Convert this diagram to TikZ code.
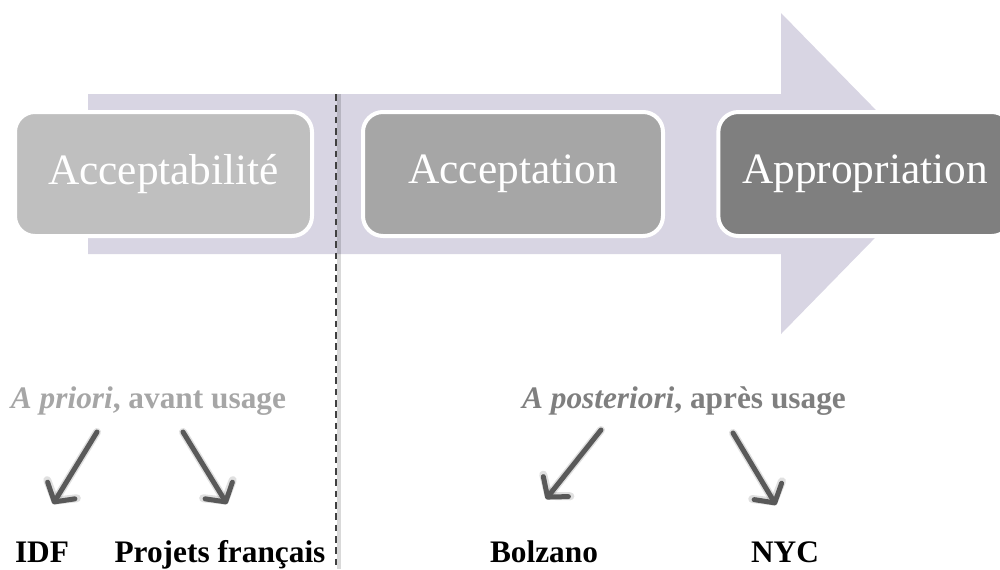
\documentclass[tikz,border=0pt]{standalone}
\usepackage{fontspec}
\setmainfont{Liberation Serif}
\usetikzlibrary{arrows.meta}
\definecolor{lav}{HTML}{D8D5E3}
\definecolor{gA}{HTML}{BFBFBF}
\definecolor{gB}{HTML}{A6A6A6}
\definecolor{gC}{HTML}{7F7F7F}
\definecolor{gD}{HTML}{595959}
\tikzset{
  stagebox/.style={draw=white, line width=3pt, rounded corners=15pt, text=white,
    minimum height=93pt, font=\fontsize{32.5}{36}\selectfont, inner sep=0pt},
  phase/.style={anchor=base, font=\fontsize{23.5}{26}\selectfont\bfseries},
  case/.style={anchor=base, font=\fontsize{23.5}{26}\selectfont\bfseries, text=black},
  darrow/.style={draw=gD, line width=3.75pt, line cap=round,
    -{Straight Barb[length=10pt, width=24pt, round]}},
  dshadow/.style={draw=black, opacity=0.12, line width=6pt, line cap=round,
    -{Straight Barb[length=10pt, width=26pt, round]}, shift={(2,3)}}
}
\begin{document}
\begin{tikzpicture}[x=0.75pt, y=-0.75pt]
\useasboundingbox (0,0) rectangle (1000,569);
% big arrow
\fill[lav] (88,94) -- (781,94) -- (781,13) -- (938,173.5) -- (781,334) -- (781,254) -- (88,254) -- cycle;
% dashed separator
\coordinate (dtop) at (336,94);
\coordinate (dbot) at (336,569);
\draw[black, opacity=0.15, line width=3pt] ([xshift=2.5]dtop) -- ([xshift=2.5]dbot);
\draw[black!75, line width=1.1pt, dash pattern=on 5pt off 3.5pt] (dtop) -- (dbot);
% stage boxes
\node (b1) [stagebox, fill=gA, minimum width=222.75pt] at (163.5,174) {Acceptabilité};
\node (b2) [stagebox, fill=gB, minimum width=225pt] at (513,174) {Acceptation};
\node (b3) [stagebox, fill=gC, minimum width=220pt] at (865,174) {Appropriation};
% phase labels
\node (pri) [phase, text=gB] at (148.5,408) {\textit{A priori}, avant usage};
\node (post) [phase, text=gC] at (684,408) {\textit{A posteriori}, après usage};
% cases
\node (idf) [case] at (42,562) {IDF};
\node (fr) [case] at (220,562) {Projets français};
\node (bz) [case] at (544,562) {Bolzano};
\node (nyc) [case] at (785,562) {NYC};
% arrow end points
\coordinate (a1s) at (97,432);  \coordinate (a1e) at (53,504);
\coordinate (a2s) at (183,432); \coordinate (a2e) at (227,504);
\coordinate (a3s) at (601,430); \coordinate (a3e) at (546,499);
\coordinate (a4s) at (733,433); \coordinate (a4e) at (776,505);
\foreach \s/\e in {a1s/a1e, a2s/a2e, a3s/a3e, a4s/a4e}{
  \draw[dshadow] (\s) -- (\e);
  \draw[darrow] (\s) -- (\e);
}
\end{tikzpicture}
\end{document}
